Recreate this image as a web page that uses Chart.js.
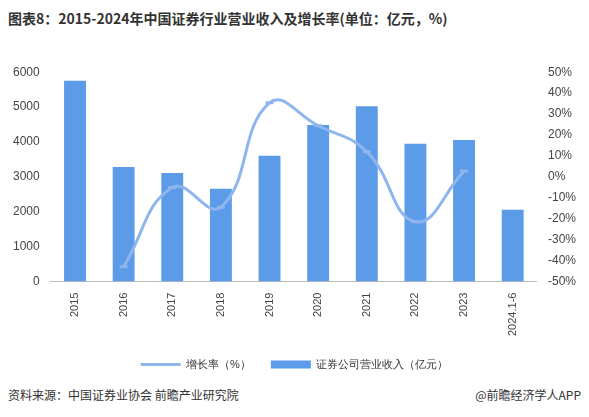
<!DOCTYPE html>
<html><head><meta charset="utf-8">
<script src="https://cdn.jsdelivr.net/npm/chart.js@4"></script>
<style>
body{margin:0;width:589px;height:417px;background:#fff;font-family:"Noto Sans CJK SC",sans-serif;position:relative;overflow:hidden}
#t{position:absolute;left:8px;top:8px;font-size:14px;font-weight:bold;color:#333}
#s{position:absolute;left:8px;top:386px;font-size:12px;color:#333}
#r{position:absolute;right:8px;top:386px;font-size:12px;color:#333}
#w{position:absolute;left:0;top:62px;width:589px;height:318px}
</style></head><body>
<div id="t">图表8：2015-2024年中国证券行业营业收入及增长率(单位：亿元，%)</div>
<div id="w"><canvas id="c"></canvas></div>
<div id="s">资料来源：中国证券业协会 前瞻产业研究院</div>
<div id="r">@前瞻经济学人APP</div>
<script>
const categories=["2015","2016","2017","2018","2019","2020","2021","2022","2023","2024.1-6"];
const revenue=[5752,3280,3113,2663,3605,4485,5024,3950,4059,2060];
const growth=[null,-42.97,-5.08,-14.47,35.37,24.41,12.03,-21.38,2.77,null];
new Chart(document.getElementById('c'),{
data:{labels:categories,datasets:[
{type:'bar',label:'证券公司营业收入（亿元）',data:revenue,yAxisID:'y',backgroundColor:'#5b9be8',barPercentage:0.5,categoryPercentage:0.9,order:1,pointStyle:'rect'},
{type:'line',label:'增长率（%）',data:growth,yAxisID:'y1',borderColor:'#8fb5ee',backgroundColor:'#8fb5ee',borderWidth:3,pointRadius:4,tension:0.45,order:0,pointStyle:'line'}
]},
options:{responsive:true,maintainAspectRatio:false,animation:false,
layout:{padding:{left:10,right:10,top:4}},
plugins:{legend:{position:'bottom',labels:{font:{size:11},color:'#333',usePointStyle:true,pointStyleWidth:40,boxHeight:8,padding:20}}},
scales:{
x:{grid:{display:false},border:{color:'#bbb'},ticks:{maxRotation:90,minRotation:90,color:'#444',font:{size:11}}},
y:{min:0,max:6000,ticks:{stepSize:1000,color:'#444',font:{size:12},callback:v=>String(v)},grid:{display:false},border:{display:false}},
y1:{position:'right',min:-50,max:50,ticks:{stepSize:10,color:'#444',font:{size:12},callback:v=>v+'%'},grid:{display:false},border:{display:false}}
}}});
</script></body></html>
